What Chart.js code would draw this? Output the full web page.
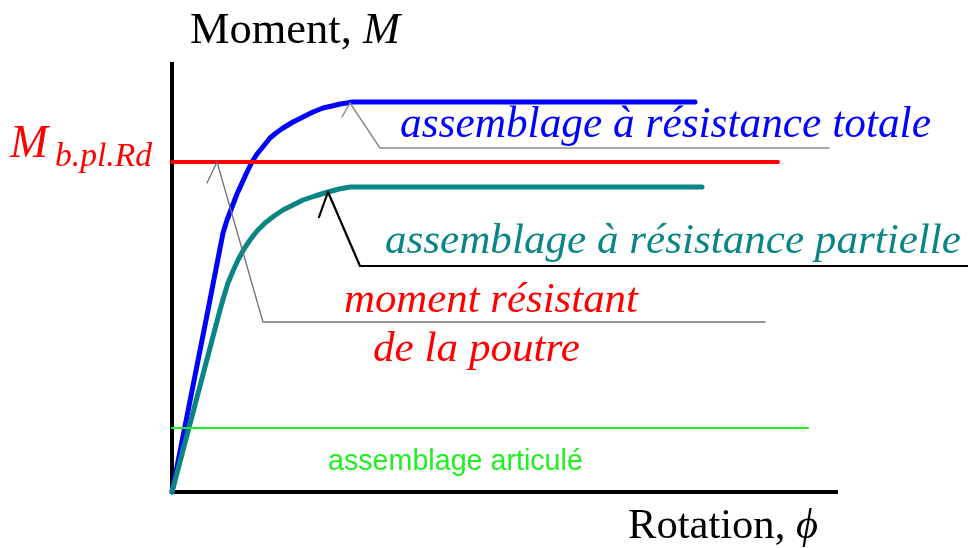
<!DOCTYPE html>
<html>
<head>
<meta charset="utf-8">
<script src="https://cdn.jsdelivr.net/npm/chart.js@4.4.0/dist/chart.umd.min.js"></script>
<style>
  html, body { margin: 0; padding: 0; background: #fff; }
  #wrap { width: 968px; height: 548px; }
</style>
</head>
<body>
<div id="wrap"><canvas id="chart" width="968" height="548"></canvas></div>
<script>
// curves, in axis units (rotation along x, moment along y)
const totalX = [0, 36, 51, 55, 60, 65, 70, 75, 80, 85, 90, 98, 104, 111, 121, 131, 141, 151, 160, 168, 175, 180, 523];
const totalY = [0, 182, 259, 272, 285, 298, 309, 320, 330, 338, 344, 354, 359, 364, 370, 375, 380, 384, 386, 388, 389, 390, 390];
const partialX = [0, 48, 52, 56, 61, 66, 72, 78, 85, 93, 102, 111, 121, 131, 143, 156, 167, 178, 530];
const partialY = [0, 182, 196, 209, 221, 232, 243, 252, 261, 269, 276, 282, 287, 292, 296, 300, 303, 305, 305];
const beamX = [0, 606];
const beamY = [330, 330];
const pinnedX = [0, 636];
const pinnedY = [64, 64];

// leader lines from the labels to their curves
const leadTotalX = [170, 178, 208, 657];
const leadTotalY = [375, 389, 344, 344];
const leadBeamX = [35, 45, 91, 593];
const leadBeamY = [309, 330, 170, 170];
const leadPartialX = [147, 156, 188, 796];
const leadPartialY = [275, 300, 226, 226];

const X_MAX = 666;
const Y_MAX = 430;

function pts(xs, ys) {
    return xs.map((x, i) => ({ x: x, y: ys[i] }));
}

function curve(xs, ys, color, width) {
    return {
        data: pts(xs, ys),
        showLine: true,
        borderColor: color,
        borderWidth: width,
        pointRadius: 0,
        fill: false,
        clip: false,
        borderCapStyle: "round",
        borderJoinStyle: "round",
        tension: 0,
    };
}

// draws a run of text pieces, scaled so the run is exactly `width` wide
function fitText(ctx, parts, x, y, width, color) {
    const base = 40;
    let total = 0;
    parts.forEach(p => {
        ctx.font = (p.italic ? "italic " : "") + base + "px " + p.family;
        total += ctx.measureText(p.text).width;
    });
    const k = width / total;
    let cx = x;
    ctx.fillStyle = color;
    ctx.textBaseline = "alphabetic";
    ctx.textAlign = "left";
    parts.forEach(p => {
        ctx.font = (p.italic ? "italic " : "") + (base * k).toFixed(2) + "px " + p.family;
        ctx.fillText(p.text, cx, y);
        cx += ctx.measureText(p.text).width;
    });
}

const SERIF = "'Liberation Serif', 'DejaVu Serif', serif";
const SANS = "'Liberation Sans', Arial, sans-serif";

const axesPlugin = {
    id: "axes",
    beforeDatasetsDraw(chart) {
        const { ctx, chartArea } = chart;
        ctx.save();
        ctx.strokeStyle = "#000";
        ctx.lineWidth = 4;
        ctx.beginPath();
        ctx.moveTo(chartArea.left, chartArea.top);
        ctx.lineTo(chartArea.left, chartArea.bottom);
        ctx.lineTo(chartArea.right, chartArea.bottom);
        ctx.stroke();
        ctx.restore();
    },
    afterDraw(chart) {
        const ctx = chart.ctx;
        ctx.save();
        fitText(ctx, [
            { text: "Moment, ", family: SERIF },
            { text: "M", family: SERIF, italic: true },
        ], 190, 43, 210, "#000");
        fitText(ctx, [
            { text: "Rotation, ", family: SERIF },
            { text: "\u03d5", family: SERIF, italic: true },
        ], 628, 538, 190, "#000");
        fitText(ctx, [{ text: "M", family: SERIF, italic: true }], 10, 157, 38, "#ff0000");
        fitText(ctx, [{ text: "b.pl.Rd", family: SERIF, italic: true }], 55, 166, 97, "#ff0000");
        fitText(ctx, [{ text: "assemblage \u00e0 r\u00e9sistance totale", family: SERIF, italic: true }],
            400, 137, 531, "#0000ff");
        fitText(ctx, [{ text: "assemblage \u00e0 r\u00e9sistance partielle", family: SERIF, italic: true }],
            385, 253, 576, "#0a8585");
        fitText(ctx, [{ text: "moment r\u00e9sistant", family: SERIF, italic: true }],
            344, 312, 294, "#ff0000");
        fitText(ctx, [{ text: "de la poutre", family: SERIF, italic: true }],
            373, 361, 207, "#ff0000");
        fitText(ctx, [{ text: "assemblage articul\u00e9", family: SANS }],
            328, 470, 255, "#22ee22");
        ctx.restore();
    },
};

new Chart(document.getElementById("chart").getContext("2d"), {
    type: "scatter",
    data: {
        datasets: [
            curve(pinnedX, pinnedY, "#22ee22", 2),
            curve(leadTotalX, leadTotalY, "#8c8c8c", 1.5),
            curve(leadBeamX, leadBeamY, "#707070", 1.3),
            curve(leadPartialX, leadPartialY, "#000000", 2.2),
            curve(beamX, beamY, "#ff0000", 4),
            curve(partialX, partialY, "#0a8585", 5),
            curve(totalX, totalY, "#0000ff", 5),
        ],
    },
    options: {
        responsive: false,
        animation: false,
        events: [],
        layout: { padding: { left: 172, right: 130, top: 62, bottom: 56 } },
        plugins: {
            legend: { display: false },
            tooltip: { enabled: false },
        },
        scales: {
            x: { type: "linear", display: false, min: 0, max: X_MAX },
            y: { type: "linear", display: false, min: 0, max: Y_MAX },
        },
    },
    plugins: [axesPlugin],
});
</script>
</body>
</html>
